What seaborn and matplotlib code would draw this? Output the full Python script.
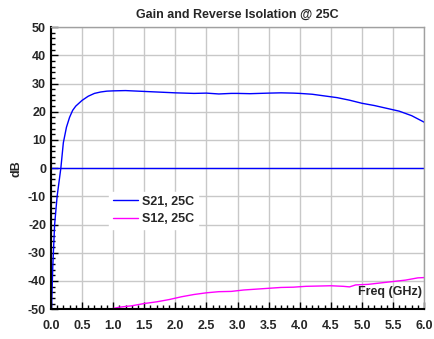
import numpy as np
import pandas as pd
import matplotlib
matplotlib.use('Agg')
import matplotlib.pyplot as plt
import seaborn as sns
from matplotlib.ticker import MultipleLocator, FormatStrFormatter

# S21 gain
s21_freq = [0.01, 0.03, 0.06, 0.10, 0.16, 0.20, 0.25, 0.30, 0.35, 0.40, 0.50, 0.60, 0.70, 0.80,
            0.90, 1.00, 1.20, 1.50, 1.80, 2.00, 2.30, 2.50, 2.70, 2.90, 3.00, 3.20, 3.50, 3.70,
            3.90, 4.00, 4.20, 4.40, 4.60, 4.80, 5.00, 5.20, 5.40, 5.60, 5.80, 6.00]
s21_db = [-50.0, -35.0, -20.0, -10.0, 0.0, 9.0, 14.5, 18.0, 20.5, 22.0, 24.0, 25.5, 26.5, 27.0,
          27.3, 27.4, 27.5, 27.2, 26.9, 26.7, 26.5, 26.6, 26.3, 26.5, 26.5, 26.4, 26.6, 26.7,
          26.6, 26.5, 26.2, 25.6, 25.0, 24.1, 23.0, 22.2, 21.2, 20.2, 18.6, 16.3]

# S12 reverse isolation
s12_freq = [0.95, 1.10, 1.30, 1.50, 1.70, 1.90, 2.10, 2.30, 2.50, 2.70, 2.90, 3.10, 3.30, 3.50,
            3.70, 3.90, 4.10, 4.30, 4.50, 4.70, 4.80, 4.90, 5.10, 5.30, 5.50, 5.70, 5.90, 6.00]
s12_db = [-50.0, -49.3, -48.8, -48.0, -47.4, -46.6, -45.6, -44.8, -44.2, -43.8, -43.7, -43.2, -42.9, -42.6,
          -42.3, -42.2, -41.9, -41.8, -41.7, -41.9, -42.1, -41.4, -41.2, -40.7, -40.2, -39.7, -38.9, -38.8]

df21 = pd.DataFrame({'freq': s21_freq, 'db': s21_db})
df12 = pd.DataFrame({'freq': s12_freq, 'db': s12_db})

sns.set_style('white')
plt.rcParams['font.family'] = ['Liberation Sans', 'DejaVu Sans']
plt.rcParams['font.weight'] = 'bold'
plt.rcParams['axes.unicode_minus'] = False

fig = plt.figure(figsize=(4.35, 3.39), dpi=100)
ax = fig.add_axes([0.117, 0.088, 0.858, 0.832])

sns.lineplot(data=df21, x='freq', y='db', color='#0000ff', linewidth=1, label='S21, 25C', ax=ax)
sns.lineplot(data=df12, x='freq', y='db', color='#ff00ff', linewidth=1, label='S12, 25C', ax=ax)
ax.axhline(0, color='#0000ff', linewidth=1)

ax.set_xlim(0, 6)
ax.set_ylim(-50, 50)
ax.xaxis.set_major_locator(MultipleLocator(0.5))
ax.xaxis.set_minor_locator(MultipleLocator(0.1))
ax.yaxis.set_major_locator(MultipleLocator(10))
ax.yaxis.set_minor_locator(MultipleLocator(2))
ax.xaxis.set_major_formatter(FormatStrFormatter('%.1f'))
ax.tick_params(which='both', direction='in', labelsize=9, color='black',
               bottom=True, left=True, top=False, right=False)
ax.tick_params(which='major', length=5, width=1)
ax.tick_params(which='minor', length=3, width=1)
ax.tick_params(axis='x', pad=8)
ax.grid(True, which='major', color='#c8c8c8', linewidth=1)

for side in ['left', 'bottom']:
    ax.spines[side].set_color('black')
    ax.spines[side].set_linewidth(1.5)
for side in ['top', 'right']:
    ax.spines[side].set_color('#a0a0a0')
    ax.spines[side].set_linewidth(1)

ax.set_xlabel('')
ax.set_ylabel('dB', fontsize=9, fontweight='bold')
ax.set_title('Gain and Reverse Isolation @ 25C', fontsize=9, fontweight='bold', pad=7)
ax.text(0.995, 0.06, 'Freq (GHz)', transform=ax.transAxes, ha='right', va='center',
        fontsize=9, fontweight='bold')

leg = ax.legend(loc='center left', bbox_to_anchor=(0.14, 0.35), frameon=True, fontsize=9,
                handlelength=2.0, handletextpad=0.3, labelspacing=0.45, borderpad=0.3)
leg.get_frame().set_edgecolor('white')
leg.get_frame().set_facecolor('white')
leg.get_frame().set_alpha(1)

fig.savefig('out.png', dpi=100)
